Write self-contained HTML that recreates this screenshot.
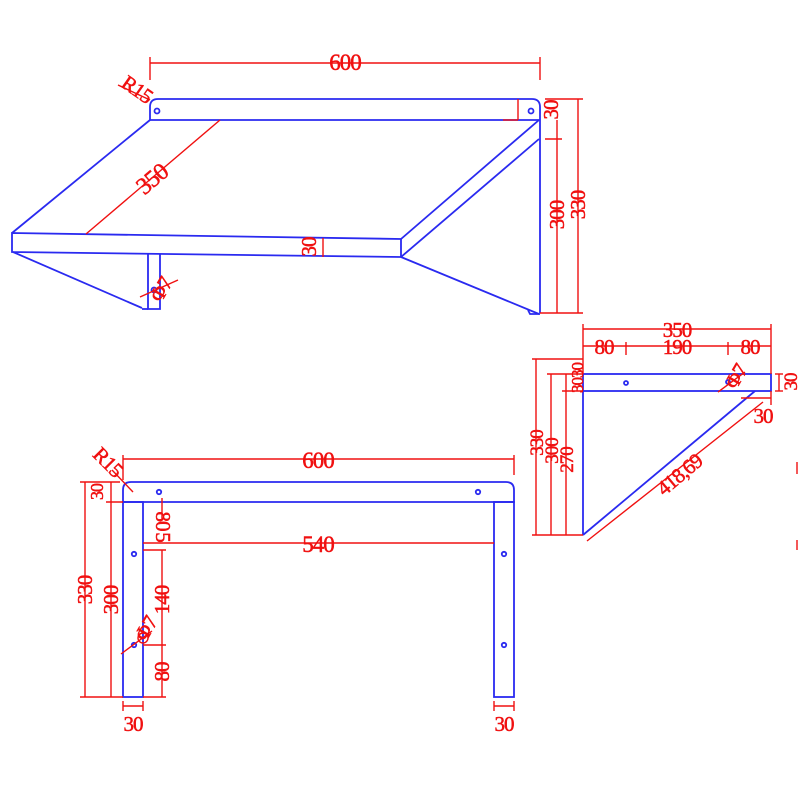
<!DOCTYPE html>
<html><head><meta charset="utf-8"><style>html,body{margin:0;padding:0;background:#fff}svg{display:block}</style></head><body>
<svg width="800" height="800" viewBox="0 0 800 800" xmlns="http://www.w3.org/2000/svg">
<rect width="800" height="800" fill="#fff"/>
<g fill="none" stroke="#2a2af0" stroke-width="1.8">
<path d="M150,120 L150,107 Q150,99 158,99 L532,99 Q540,99 540,107 L540,313"/>
<line x1="150" y1="120" x2="540" y2="120"/>
<line x1="150" y1="120" x2="12" y2="233"/>
<polygon points="12,233 401,239 401,257 12,252"/>
<line x1="401" y1="239" x2="539" y2="120"/>
<line x1="401" y1="257" x2="539" y2="139"/>
<line x1="401" y1="257" x2="539" y2="314"/>
<path d="M528,310 L530,314 L540,314"/>
<line x1="13" y1="252" x2="142" y2="308"/>
<polyline points="148,253 148,309 160,309 160,254"/>
<line x1="142" y1="309" x2="148" y2="309"/>
<circle cx="157" cy="111" r="2.5"/><circle cx="531" cy="111" r="2.5"/><circle cx="154" cy="290" r="2.5"/>
<rect x="583" y="374" width="188" height="17"/>
<line x1="583" y1="391" x2="583" y2="535"/>
<line x1="583" y1="535" x2="755" y2="391"/>
<circle cx="626" cy="383" r="2"/><circle cx="728" cy="382" r="2"/>
<path d="M123,502 L123,490 Q123,482 131,482 L506,482 Q514,482 514,490 L514,502 Z"/>
<rect x="123" y="502" width="20" height="195"/>
<rect x="494" y="502" width="20" height="195"/>
<circle cx="159" cy="492" r="2.2"/><circle cx="478" cy="492" r="2.2"/>
<circle cx="134" cy="554" r="2.2"/><circle cx="504" cy="554" r="2.2"/>
<circle cx="134" cy="645" r="2.2"/><circle cx="504" cy="645" r="2.2"/>
</g>
<g fill="none" stroke="#f01010" stroke-width="1.4">
<line x1="150" y1="63" x2="540" y2="63"/><line x1="150" y1="57" x2="150" y2="80"/><line x1="540" y1="57" x2="540" y2="80"/>
<line x1="518" y1="99" x2="518" y2="120"/><line x1="503" y1="120" x2="518" y2="120"/>
<line x1="220" y1="120" x2="86" y2="234"/>
<line x1="323" y1="238" x2="323" y2="257"/>
<line x1="557" y1="120" x2="557" y2="313"/><line x1="578" y1="99" x2="578" y2="313"/>
<line x1="545" y1="99" x2="583" y2="99"/><line x1="540" y1="313" x2="583" y2="313"/><line x1="545" y1="139" x2="562" y2="139"/>
<line x1="140" y1="297" x2="178" y2="280"/>
<line x1="118" y1="85" x2="150" y2="100"/>
<line x1="583" y1="329" x2="771" y2="329"/><line x1="583" y1="324" x2="583" y2="374"/><line x1="771" y1="324" x2="771" y2="374"/>
<line x1="583" y1="346" x2="771" y2="346"/><line x1="626" y1="342" x2="626" y2="355"/><line x1="728" y1="342" x2="728" y2="355"/>
<line x1="536" y1="359" x2="536" y2="535"/><line x1="551" y1="374" x2="551" y2="535"/><line x1="566" y1="374" x2="566" y2="535"/>
<line x1="532" y1="359" x2="583" y2="359"/><line x1="547" y1="374" x2="583" y2="374"/><line x1="562" y1="391" x2="583" y2="391"/><line x1="532" y1="535" x2="583" y2="535"/>
<line x1="779" y1="374" x2="779" y2="391"/><line x1="775" y1="374" x2="783" y2="374"/><line x1="775" y1="391" x2="783" y2="391"/>
<line x1="741" y1="398" x2="771" y2="398"/><line x1="771" y1="391" x2="771" y2="405"/>
<line x1="587" y1="541" x2="763" y2="402"/><line x1="718" y1="392" x2="745" y2="372"/>
<line x1="123" y1="459" x2="514" y2="459"/><line x1="123" y1="455" x2="123" y2="480"/><line x1="514" y1="455" x2="514" y2="475"/>
<line x1="143" y1="543" x2="494" y2="543"/>
<line x1="85" y1="482" x2="85" y2="697"/><line x1="111" y1="482" x2="111" y2="697"/>
<line x1="80" y1="482" x2="120" y2="482"/><line x1="106" y1="502" x2="123" y2="502"/><line x1="80" y1="697" x2="123" y2="697"/>
<line x1="162" y1="498" x2="162" y2="520"/><line x1="162" y1="550" x2="162" y2="697"/>
<line x1="143" y1="550" x2="166" y2="550"/><line x1="143" y1="645" x2="166" y2="645"/><line x1="143" y1="697" x2="166" y2="697"/>
<line x1="123" y1="706" x2="143" y2="706"/><line x1="123" y1="701" x2="123" y2="711"/><line x1="143" y1="701" x2="143" y2="711"/>
<line x1="494" y1="706" x2="514" y2="706"/><line x1="494" y1="701" x2="494" y2="711"/><line x1="514" y1="701" x2="514" y2="711"/>
<line x1="121" y1="654" x2="152" y2="631"/><circle cx="143" cy="638" r="5"/>
<line x1="112" y1="470" x2="133" y2="492"/>
<line x1="797" y1="462" x2="797" y2="474"/><line x1="797" y1="540" x2="797" y2="550"/>
</g>
<g fill="#f01010" stroke="#f01010" stroke-width="0.5" font-family="Liberation Serif, serif" font-size="21" text-anchor="middle" letter-spacing="-1">
<text x="345" y="70" font-size="23">600</text>
<text x="0" y="0" transform="translate(133,95) rotate(35)">R15</text>
<text x="0" y="0" transform="translate(157,185) rotate(-40)" font-size="24">350</text>
<text x="0" y="0" transform="translate(316,247) rotate(-90)">30</text>
<text x="0" y="0" transform="translate(558,110) rotate(-90)">30</text>
<text x="0" y="0" transform="translate(564,215) rotate(-90)">300</text>
<text x="0" y="0" transform="translate(585,205) rotate(-90)">330</text>
<text x="0" y="0" transform="translate(167,293) rotate(-60)">Φ7</text>
<text x="677" y="337">350</text>
<text x="604" y="354">80</text><text x="677" y="354">190</text><text x="750" y="354">80</text>
<text x="0" y="0" transform="translate(583,378) rotate(-90)" font-size="17">3030</text>
<text x="0" y="0" transform="translate(543,443) rotate(-90)" font-size="19">330</text>
<text x="0" y="0" transform="translate(558,451) rotate(-90)" font-size="19">300</text>
<text x="0" y="0" transform="translate(573,460) rotate(-90)" font-size="19">270</text>
<text x="0" y="0" transform="translate(797,382) rotate(-90)" font-size="19">30</text>
<text x="763" y="423">30</text>
<text x="0" y="0" transform="translate(684,480) rotate(-40)">418,69</text>
<text x="0" y="0" transform="translate(742,380) rotate(-60)">Φ7</text>
<text x="318" y="468" font-size="23">600</text>
<text x="318" y="552" font-size="23">540</text>
<text x="0" y="0" transform="translate(103,467) rotate(45)">R15</text>
<text x="0" y="0" transform="translate(103,492) rotate(-90)" font-size="18">30</text>
<text x="0" y="0" transform="translate(92,590) rotate(-90)">330</text>
<text x="0" y="0" transform="translate(118,600) rotate(-90)">300</text>
<text x="0" y="0" transform="translate(169,600) rotate(-90)">140</text>
<text x="0" y="0" transform="translate(169,672) rotate(-90)">80</text>
<text x="0" y="0" transform="translate(156,521) rotate(90)">80</text>
<text x="0" y="0" transform="translate(156,537) rotate(90)">5</text>
<text x="0" y="0" transform="translate(152,632) rotate(-60)">Φ7</text>
<text x="133" y="731">30</text><text x="504" y="731">30</text>
</g>
</svg>
</body></html>
